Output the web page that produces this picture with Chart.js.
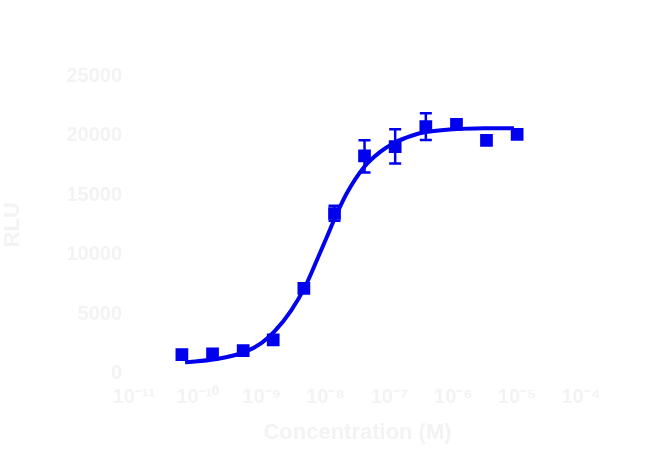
<!DOCTYPE html>
<html><head><meta charset="utf-8">
<script src="https://cdn.jsdelivr.net/npm/chart.js@4"></script>
<style>html,body{margin:0;padding:0;background:#fff}#wrap{width:650px;height:469px}</style>
</head><body><div id="wrap"><canvas id="c"></canvas></div>
<script>
// log10 concentration (M), 3-fold dilutions
const logConc = [-10.25, -9.77, -9.29, -8.82, -8.34, -7.86, -7.39, -6.91, -6.43, -5.95, -5.48, -5.0];
const signal  = [1600, 1650, 1930, 2830, 7160, 13450, 18290, 19070, 20750, 20940, 19600, 20100];
const errLow  = [null, null, null, null, null, 12830, 16890, 17640, 19630, null, null, null];
const errHigh = [null, null, null, null, null, 14090, 19600, 20530, 21870, null, null, null];
// fitted curve
const curveX = [-10.2, -9.73, -9.27, -9.0, -8.8, -8.54, -8.32, -8.13, -7.97, -7.86, -7.67, -7.39, -7.15, -6.92, -6.64, -6.45, -5.99, -5.51, -5.05];
const curveY = [948, 1200, 1800, 2580, 3540, 5300, 7300, 9600, 11600, 13000, 15130, 17400, 18600, 19400, 20000, 20270, 20530, 20610, 20620];
const xTicks = [-11, -10, -9, -8, -7, -6, -5, -4];
const xTickLabels = ['10⁻¹¹', '10⁻¹⁰', '10⁻⁹', '10⁻⁸', '10⁻⁷', '10⁻⁶', '10⁻⁵', '10⁻⁴'];
const yTicks = [0, 5000, 10000, 15000, 20000, 25000];
const xTitle = 'Concentration (M)';
const yTitle = 'RLU';

const BLUE = '#0000ee';
const TXT = '#f3f3f3';

const errorBars = {
  id: 'errorBars',
  afterDatasetsDraw(chart) {
    const {ctx, scales: {x, y}} = chart;
    ctx.save();
    ctx.strokeStyle = BLUE;
    ctx.lineWidth = 2.5;
    logConc.forEach((lc, i) => {
      if (errLow[i] == null) return;
      const px = x.getPixelForValue(lc);
      const y1 = y.getPixelForValue(errLow[i]);
      const y2 = y.getPixelForValue(errHigh[i]);
      ctx.beginPath();
      ctx.moveTo(px, y1); ctx.lineTo(px, y2);
      ctx.moveTo(px - 6, y1); ctx.lineTo(px + 6, y1);
      ctx.moveTo(px - 6, y2); ctx.lineTo(px + 6, y2);
      ctx.stroke();
    });
    ctx.restore();
  }
};

new Chart(document.getElementById('c'), {
  type: 'scatter',
  data: {
    datasets: [
      {
        type: 'line',
        data: curveX.map((v, i) => ({x: v, y: curveY[i]})),
        borderColor: BLUE,
        borderWidth: 4,
        pointRadius: 0,
        cubicInterpolationMode: 'monotone',
        fill: false,
        order: 2
      },
      {
        data: logConc.map((v, i) => ({x: v, y: signal[i]})),
        backgroundColor: BLUE,
        borderColor: BLUE,
        pointStyle: 'rect',
        pointRadius: 9,
        borderWidth: 0,
        order: 1
      }
    ]
  },
  options: {
    responsive: true,
    maintainAspectRatio: false,
    animation: false,
    layout: {padding: {top: 76, right: 69, left: 0, bottom: 21}},
    plugins: {legend: {display: false}, tooltip: {enabled: false}},
    scales: {
      x: {
        type: 'linear', min: -11, max: -4,
        afterBuildTicks(ax) { ax.ticks = xTicks.map(v => ({value: v})); },
        ticks: {
          color: TXT, font: {family: 'Liberation Sans', size: 20, weight: 'bold'},
          callback(v) { const i = xTicks.indexOf(v); return i >= 0 ? xTickLabels[i] : ''; },
          maxRotation: 0, padding: 4
        },
        grid: {display: false},
        border: {display: false},
        title: {display: true, text: xTitle, color: TXT, padding: {top: 6, bottom: 2}, font: {family: 'Liberation Sans', size: 22, weight: 'bold'}}
      },
      y: {
        min: 0, max: 25000,
        afterBuildTicks(ax) { ax.ticks = yTicks.map(v => ({value: v})); },
        afterFit(ax) { ax.width = 134; },
        ticks: {
          color: TXT, font: {family: 'Liberation Sans', size: 20, weight: 'bold'}, padding: 4,
          callback(v) { return String(v); }
        },
        grid: {display: false},
        border: {display: false},
        title: {display: true, text: yTitle, color: TXT, padding: {top: 0, bottom: 20}, font: {family: 'Liberation Sans', size: 22, weight: 'bold'}}
      }
    }
  },
  plugins: [errorBars]
});
</script>
</body></html>
